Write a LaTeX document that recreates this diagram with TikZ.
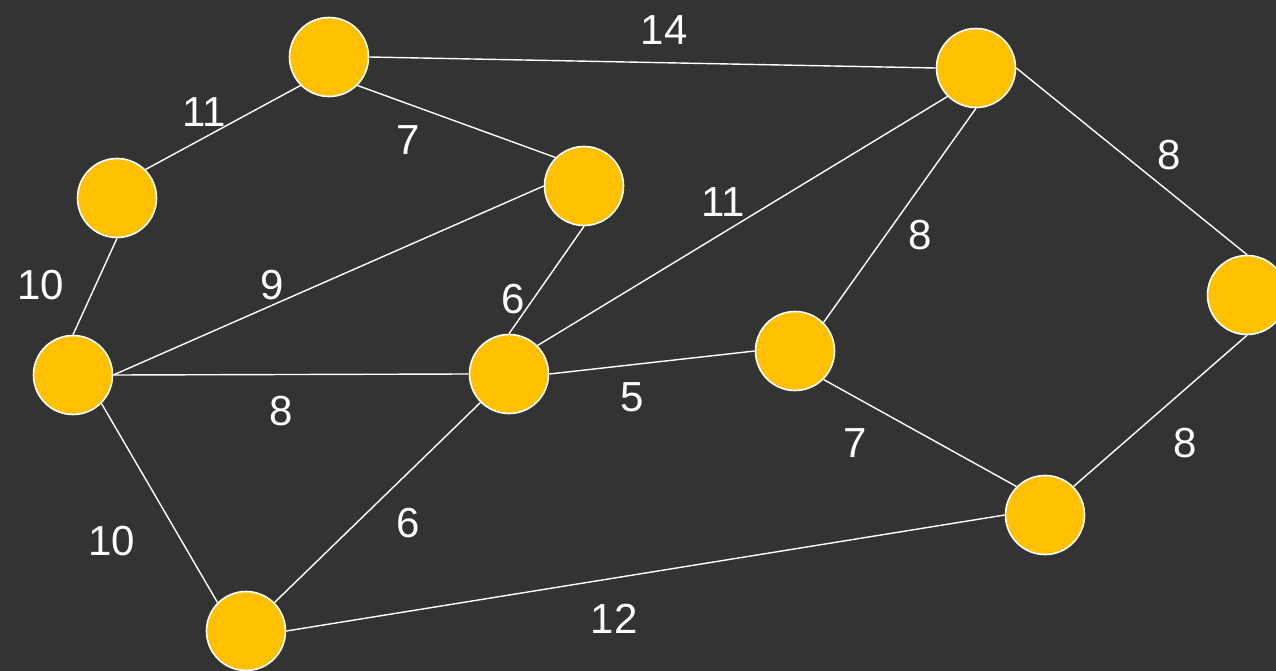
\documentclass[tikz,border=0pt]{standalone}
\usepackage{fontspec}
\setmainfont{Liberation Sans}
\definecolor{bg}{HTML}{333333}
\definecolor{gold}{HTML}{FFC000}
\pgfdeclarelayer{back}
\pgfdeclarelayer{edges}
\pgfsetlayers{back,edges,main}
\begin{document}
\begin{tikzpicture}[x=1pt,y=-1pt,
  vert/.style={circle,fill=gold,draw=white,line width=1.6pt,minimum size=79pt,inner sep=0pt},
  edge/.style={draw=white,line width=1.4pt},
  wt/.style={text=white,inner sep=0pt,font=\fontsize{42}{50}\selectfont}]
\begin{pgfonlayer}{back}
\fill[bg] (0,0) rectangle (1276,671);
\end{pgfonlayer}
\useasboundingbox (0,0) rectangle (1276,671);
\node[vert] (A) at (329,57) {};
\node[vert] (B) at (117,198) {};
\node[vert] (C) at (584,186) {};
\node[vert] (D) at (976,68) {};
\node[vert] (E) at (1247,295) {};
\node[vert] (F) at (73,375) {};
\node[vert] (G) at (509,374) {};
\node[vert] (H) at (795,351) {};
\node[vert] (I) at (1045,515) {};
\node[vert] (J) at (246,631) {};
\begin{pgfonlayer}{edges}
\path[edge] (A.south west) -- (B.north east);
\path[edge] (A.south east) -- (C.north west);
\path[edge] (A.east) -- (D.west);
\path[edge] (B.south) -- (F.north);
\path[edge] (F.east) -- (C.west);
\path[edge] (C.south) -- (G.north);
\path[edge] (F.east) -- (G.west);
\path[edge] (F.south east) -- (J.north west);
\path[edge] (G.south west) -- (J.north east);
\path[edge] (G.north east) -- (D.south west);
\path[edge] (G.east) -- (H.west);
\path[edge] (D.south) -- (H.north east);
\path[edge] (D.east) -- (E.north);
\path[edge] (E.south) -- (I.north east);
\path[edge] (H.south east) -- (I.north west);
\path[edge] (J.east) -- (I.west);
\end{pgfonlayer}
\node[wt] (wAD) at (664,30) {14};
\node[wt] (wAB) at (204,112) {11};
\node[wt] (wAC) at (408,140) {7};
\node[wt] (wDE) at (1169,155) {8};
\node[wt] (wGD) at (723,202) {11};
\node[wt] (wDH) at (920,235) {8};
\node[wt] (wBF) at (41,285) {10};
\node[wt] (wFC) at (272,285) {9};
\node[wt] (wCG) at (513,299) {6};
\node[wt] (wGH) at (632,397) {5};
\node[wt] (wFG) at (281,411) {8};
\node[wt] (wHI) at (855,443) {7};
\node[wt] (wEI) at (1185,443) {8};
\node[wt] (wFJ) at (112,541) {10};
\node[wt] (wGJ) at (408,523) {6};
\node[wt] (wJI) at (614,619) {12};
\end{tikzpicture}
\end{document}
